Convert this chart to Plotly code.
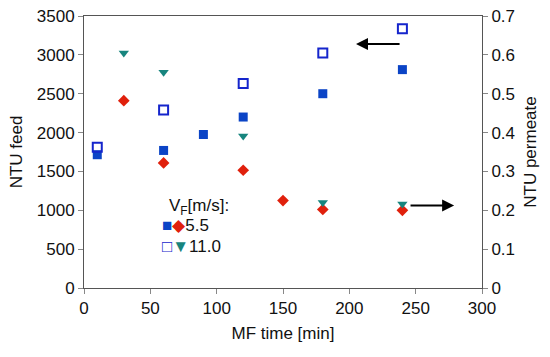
import plotly.graph_objects as go

# Data
t_feed_55 = [10, 60, 90, 120, 180, 240]
ntu_feed_55 = [1715, 1770, 1975, 2200, 2500, 2810]
t_feed_110 = [10, 60, 120, 180, 240]
ntu_feed_110 = [1810, 2290, 2630, 3025, 3335]
t_perm_55 = [30, 60, 120, 150, 180, 240]
ntu_perm_55 = [0.482, 0.322, 0.303, 0.225, 0.202, 0.200]
t_perm_110 = [30, 60, 120, 180, 240]
ntu_perm_110 = [0.605, 0.555, 0.391, 0.220, 0.216]

x_ticks = [0, 50, 100, 150, 200, 250, 300]
y1_ticks = [0, 500, 1000, 1500, 2000, 2500, 3000, 3500]
y2_ticks = [0, 0.1, 0.2, 0.3, 0.4, 0.5, 0.6, 0.7]
y2_labels = ["0", "0.1", "0.2", "0.3", "0.4", "0.5", "0.6", "0.7"]

BLUE = "#0b44c6"
BLUE_OPEN = "#1525cc"
RED = "#e0200c"
TEAL = "#17857e"
FONT = "Liberation Sans, Arial, sans-serif"

fig = go.Figure()
fig.add_trace(go.Scatter(x=t_feed_55, y=ntu_feed_55, mode="markers",
                         marker=dict(symbol="square", size=9, color=BLUE, line=dict(width=0)),
                         showlegend=False))
fig.add_trace(go.Scatter(x=t_feed_110, y=ntu_feed_110, mode="markers",
                         marker=dict(symbol="square-open", size=9, color=BLUE_OPEN, line=dict(width=2)),
                         showlegend=False))
fig.add_trace(go.Scatter(x=t_perm_55, y=ntu_perm_55, mode="markers", yaxis="y2",
                         marker=dict(symbol="diamond", size=9, color=RED, line=dict(width=0)),
                         showlegend=False))
fig.add_trace(go.Scatter(x=t_perm_110, y=ntu_perm_110, mode="markers", yaxis="y2",
                         marker=dict(symbol="triangle-down", size=9, color=TEAL, line=dict(width=0)),
                         showlegend=False))

axis_common = dict(showgrid=False, zeroline=False, showline=True, linecolor="#555555",
                   linewidth=1, ticks="outside", ticklen=5, tickcolor="#888888",
                   automargin=False,
                   tickfont=dict(family=FONT, size=17, color="#111111"))

fig.update_layout(
    width=550, height=357,
    margin=dict(l=84, r=68, t=16, b=69),
    paper_bgcolor="white", plot_bgcolor="white",
    font=dict(family=FONT, size=17, color="#111111"),
    xaxis=dict(range=[0, 300], tickvals=x_ticks, mirror=True,
               title=dict(text="MF time [min]", font=dict(size=17), standoff=9), **axis_common),
    yaxis=dict(range=[0, 3500], tickvals=y1_ticks,
               title=dict(text="NTU feed", font=dict(size=17), standoff=9), **axis_common),
    yaxis2=dict(range=[0, 0.7], tickvals=y2_ticks, ticktext=y2_labels,
                overlaying="y", side="right",
                title=dict(text="NTU permeate", font=dict(size=17), standoff=10), **axis_common),
    annotations=[
        dict(x=205, y=3140, ax=239, ay=3140, xref="x", yref="y", axref="x", ayref="y",
             showarrow=True, arrowhead=2, arrowsize=1.2, arrowwidth=2, arrowcolor="black", text=""),
        dict(x=279, y=1060, ax=245, ay=1060, xref="x", yref="y", axref="x", ayref="y",
             showarrow=True, arrowhead=2, arrowsize=1.2, arrowwidth=2, arrowcolor="black", text=""),
        dict(x=0.208, y=0.298, xref="paper", yref="paper", xanchor="left", yanchor="middle",
             showarrow=False, text="V<sub>F</sub>[m/s]:", font=dict(size=17)),
        dict(x=0.19, y=0.228, xref="paper", yref="paper", xanchor="left", yanchor="middle",
             showarrow=False,
             text=f"<span style='color:{BLUE};font-size:17px'>■</span><span style='color:{RED}'>◆</span>5.5",
             font=dict(size=17)),
        dict(x=0.19, y=0.154, xref="paper", yref="paper", xanchor="left", yanchor="middle",
             showarrow=False,
             text=f"<span style='color:{BLUE_OPEN};font-size:17px'>□</span><span style='color:{TEAL}'>▼</span>11.0",
             font=dict(size=17)),
    ],
)

fig.write_html("out.html", config={"displayModeBar": False})
with open("out.html", "r", encoding="utf-8") as f:
    html = f.read()
html = html.replace("<body>", "<body style=\"margin:0;overflow:hidden\">", 1)
with open("out.html", "w", encoding="utf-8") as f:
    f.write(html)
